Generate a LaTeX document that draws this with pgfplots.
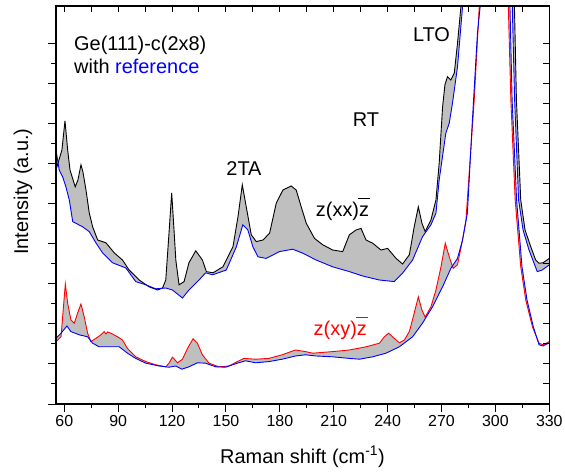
\documentclass[border=0pt]{standalone}
\usepackage{fontspec}
\setmainfont{Liberation Sans}
\usepackage{pgfplots}
\pgfplotsset{compat=1.18}
\usepgfplotslibrary{fillbetween}
\usepackage{pgfplotstable}

\pgfplotstableread[row sep=\\]{x y\\
55.4 5.85\\ 58.7 6.35\\ 60.4 7.08\\ 61.9 6.35\\ 63.2 5.85\\ 66.1 5.43\\ 67.6 5.6\\ 69.3 5.98\\ 70.4 5.8\\ 72.1 5.35\\
73.9 4.78\\ 75.8 4.43\\ 78.6 4.1\\ 83.2 4.03\\ 87.8 3.78\\ 92.4 3.6\\ 96.1 3.35\\ 101.7 3.1\\ 107.2 2.93\\ 111.9 2.85\\
114.7 2.9\\ 116.5 3.1\\ 118.3 4.27\\ 119.8 5.28\\ 121.1 4.35\\ 122.1 3.6\\ 123.9 2.98\\ 126.7 3.06\\ 129.4 3.53\\ 133.2 3.83\\
136.9 3.6\\ 139.1 3.31\\ 142.8 3.28\\ 148.3 3.43\\ 153.9 3.93\\ 156.7 4.68\\ 159.1 5.48\\ 161.3 4.93\\ 164.1 4.23\\ 166.9 4.06\\
170.6 4.1\\ 174.3 4.27\\ 178.0 5.02\\ 181.7 5.35\\ 186.3 5.45\\ 189.1 5.35\\ 191.9 4.93\\ 194.7 4.52\\ 199.3 4.14\\ 203.9 3.98\\
209.4 3.85\\ 215.0 3.81\\ 218.7 4.23\\ 222.4 4.35\\ 225.2 4.39\\ 228.0 4.1\\ 231.7 4.02\\ 236.3 3.85\\ 240.0 3.89\\ 244.7 3.64\\
248.3 3.5\\ 252.1 3.73\\ 254.8 4.43\\ 257.1 4.93\\ 259.1 4.52\\ 260.9 4.31\\ 264.1 4.6\\ 266.9 5.1\\ 268.7 6.02\\ 270.6 7.43\\
271.9 7.98\\ 273.3 8.18\\ 275.2 8.1\\ 277.1 8.27\\ 278.9 9.02\\ 280.8 9.93\\ 281.5 10.23\\ 298 20\\ 310.4 10.23\\ 310.6 9.93\\
311.7 7.6\\ 314.1 5.1\\ 316.5 4.35\\ 319.7 3.93\\ 322.4 3.6\\ 324.3 3.52\\ 326.5 3.53\\ 330 3.64\\
}\upblack

\pgfplotstableread[row sep=\\]{x y\\
55.4 6.35\\ 57.2 5.85\\ 59.1 5.68\\ 60.9 5.43\\ 62.8 5.1\\ 64.7 4.56\\ 70.2 4.43\\ 73.9 4.31\\ 77.6 4.03\\ 81.3 3.78\\
86.9 3.53\\ 94.3 3.4\\ 99.8 3.06\\ 105.4 2.98\\ 110.9 2.88\\ 116.5 2.9\\ 120.2 2.85\\ 125.8 2.65\\ 129.4 2.85\\ 135.0 3.1\\
138.7 3.28\\ 142.6 3.23\\ 150.2 3.35\\ 155.8 3.93\\ 159.4 4.48\\ 162.2 4.35\\ 165.0 3.93\\ 167.8 3.68\\ 172.4 3.64\\ 179.8 3.81\\
187.2 3.87\\ 192.8 3.77\\ 200.2 3.6\\ 209.4 3.43\\ 218.7 3.31\\ 226.1 3.2\\ 235.4 3.1\\ 243.7 3.06\\ 248.3 3.27\\ 253.9 3.6\\
259.4 4.18\\ 264.1 4.48\\ 266.9 4.77\\ 268.7 5.6\\ 272.4 6.77\\ 274.3 7.02\\ 276.1 7.52\\ 278.9 8.43\\ 281.7 9.93\\ 282.6 10.23\\
298 20\\ 309.2 10.23\\ 309.4 9.93\\ 310.7 7.6\\ 312.9 5.1\\ 315.4 4.35\\ 318.7 3.85\\ 321.5 3.52\\ 323.3 3.31\\ 326.1 3.35\\ 330 3.48\\
}\upblue

\pgfplotstableread[row sep=\\]{x y\\
55.4 1.56\\ 58.2 1.68\\ 59.4 2.35\\ 60.6 3.0\\ 61.9 2.52\\ 63.7 2.1\\ 65.6 2.02\\ 67.4 2.27\\ 69.3 2.5\\ 71.1 2.18\\
73.0 1.77\\ 74.8 1.56\\ 77.6 1.64\\ 80.4 1.73\\ 82.2 1.81\\ 83.2 1.75\\ 84.1 1.8\\ 85.9 1.77\\ 89.7 1.68\\ 92.4 1.6\\
95.2 1.39\\ 99.8 1.18\\ 105.4 1.06\\ 110.9 0.98\\ 116.5 0.93\\ 118.3 1.02\\ 120.2 1.17\\ 121.7 1.1\\ 123.0 1.03\\ 125.8 1.12\\
128.6 1.39\\ 131.7 1.63\\ 134.1 1.52\\ 136.9 1.23\\ 140.6 1.02\\ 146.1 0.93\\ 151.7 0.95\\ 156.3 1.06\\ 160.0 1.14\\ 166.5 1.12\\
173.9 1.14\\ 181.3 1.23\\ 188.7 1.35\\ 194.3 1.31\\ 198.3 1.27\\ 209.4 1.31\\ 218.7 1.35\\ 228.0 1.43\\ 235.4 1.52\\ 238.2 1.68\\
240.6 1.77\\ 243.7 1.64\\ 246.5 1.53\\ 249.3 1.6\\ 252.1 1.81\\ 254.8 2.27\\ 257.1 2.68\\ 259.1 2.35\\ 260.9 2.17\\ 264.1 2.43\\
266.9 2.85\\ 269.7 3.43\\ 272.1 4.02\\ 274.3 3.68\\ 276.5 3.39\\ 278.9 3.48\\ 281.7 4.1\\ 283.6 4.6\\ 285.4 5.77\\ 288.2 7.6\\
291.0 9.93\\ 291.3 10.23\\ 300 20\\ 307.1 10.23\\ 307.2 9.93\\ 308.6 7.6\\ 311.0 5.1\\ 314.1 3.43\\ 316.9 2.6\\ 320.6 1.93\\
324.3 1.52\\ 326.5 1.48\\ 330 1.56\\
}\lowred

\pgfplotstableread[row sep=\\]{x y\\
55.4 1.64\\ 58.2 1.77\\ 61.5 1.95\\ 63.7 1.81\\ 68.3 1.73\\ 73.0 1.68\\ 75.8 1.52\\ 79.4 1.43\\ 85.0 1.43\\ 90.6 1.43\\
95.2 1.27\\ 99.8 1.14\\ 105.4 1.02\\ 112.8 0.95\\ 118.3 0.92\\ 122.1 0.95\\ 125.4 0.87\\ 129.4 0.93\\ 134.1 1.03\\ 138.7 1.02\\
144.3 0.93\\ 149.8 0.92\\ 156.3 1.02\\ 160.9 1.08\\ 166.5 1.03\\ 173.9 1.06\\ 181.3 1.12\\ 188.7 1.2\\ 194.3 1.23\\ 200.2 1.2\\
209.4 1.18\\ 218.7 1.14\\ 224.3 1.12\\ 231.7 1.18\\ 239.1 1.27\\ 246.5 1.43\\ 253.9 1.68\\ 259.4 2.02\\ 265.0 2.43\\ 270.6 2.93\\
275.2 3.39\\ 278.9 3.64\\ 281.7 4.1\\ 284.4 4.77\\ 287.2 7.1\\ 290.0 9.27\\ 291.5 9.93\\ 291.8 10.23\\ 300 20\\ 307.9 10.23\\
308.1 9.93\\ 309.3 7.6\\ 311.8 5.1\\ 314.8 3.43\\ 317.6 2.6\\ 321.1 1.93\\ 324.3 1.48\\ 326.5 1.45\\ 330 1.53\\
}\lowblue

\newcommand{\zb}{\makebox[0pt][l]{\hspace{-1bp}\raisebox{18bp}{\rule{12bp}{1.2bp}}}z}

\begin{document}
\begin{tikzpicture}
\pgfplotsset{
  common/.style={
    width=493.3bp, height=398bp, scale only axis,
    at={(0,0)}, anchor=south west,
    xmin=55.4, xmax=330, ymin=0, ymax=9.95,
    xtick={60,90,...,330}, minor x tick num=1,
    ytick={0,1,...,9}, minor y tick num=1,
    yticklabels={},
    axis line style={line width=1.2bp},
    every tick/.style={line width=1bp, black},
    ticklabel style={font=\fontsize{16}{19}\selectfont},
    /pgf/number format/assume math mode=true,
  }
}
\begin{axis}[common,
  xtick pos=bottom, ytick pos=left, tick align=outside,
  major tick length=8bp, minor tick length=4.5bp,
  clip=true]
\addplot[draw=none, name path=UB] table[x=x,y=y] {\upblack};
\addplot[draw=none, name path=UR] table[x=x,y=y] {\upblue};
\addplot[draw=none, name path=LR] table[x=x,y=y] {\lowred};
\addplot[draw=none, name path=LB] table[x=x,y=y] {\lowblue};
\addplot[fill=black!25, draw=none] fill between[of=UB and UR];
\addplot[fill=black!25, draw=none] fill between[of=LR and LB];
\addplot[black, line width=0.9bp] table[x=x,y=y] {\upblack};
\addplot[red, line width=0.9bp] table[x=x,y=y] {\lowred};
\addplot[blue, line width=0.9bp] table[x=x,y=y] {\upblue};
\addplot[blue, line width=0.9bp] table[x=x,y=y] {\lowblue};
\end{axis}
\begin{axis}[common,
  xtick pos=top, ytick pos=right, tick align=inside,
  xticklabels={}, yticklabels={},
  major tick length=6.5bp, minor tick length=6.5bp]
\addplot[draw=none] coordinates {(100,1) (200,2)};
\end{axis}
\begin{scope}[every node/.style={font=\fontsize{20}{24}\selectfont, inner sep=0pt}]
\node[anchor=base west] at (18bp,353bp) {Ge(111)-c(2x8)};
\node[anchor=base west] at (18bp,330.7bp) {with \textcolor{blue}{reference}};
\node[anchor=base] at (188bp,228bp) {2TA};
\node[anchor=base] at (310bp,277bp) {RT};
\node[anchor=base] at (375.5bp,362bp) {LTO};
\node[anchor=base] at (286.5bp,187bp) {z(xx)\zb};
\node[anchor=base, text=red] at (284.3bp,68bp) {z(xy)\zb};
\node[anchor=base] at (246.5bp,-59bp) {Raman shift (cm\textsuperscript{-1})};
\node[rotate=90, anchor=base] at (-28bp,212.5bp) {Intensity (a.u.)};
\end{scope}
\pgfresetboundingbox
\path (-56bp,-68bp) rectangle (509bp,404bp);
\end{tikzpicture}
\end{document}
